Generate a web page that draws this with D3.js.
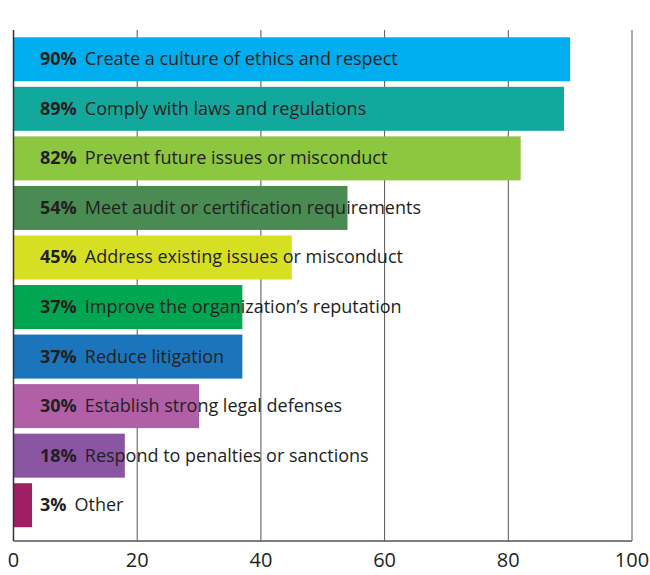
<!DOCTYPE html>
<html><head><meta charset="utf-8">
<script src="https://cdn.jsdelivr.net/npm/d3@7"></script>
<style>body{margin:0;background:#fff}text{font-family:"Open Sans",sans-serif}</style>
</head><body><svg id="c" width="650" height="575"></svg>
<script>
var labels = ["Create a culture of ethics and respect","Comply with laws and regulations","Prevent future issues or misconduct","Meet audit or certification requirements","Address existing issues or misconduct","Improve the organization\u2019s reputation","Reduce litigation","Establish strong legal defenses","Respond to penalties or sanctions","Other"];
var values = [90,89,82,54,45,37,37,30,18,3];
var colors = ["#00aeef","#13a89e","#8dc63f","#4a8b54","#d7df23","#00a651","#1b75bc","#b160a8","#8a55a3","#9e1f63"];
var ticks = [0,20,40,60,80,100];

var svg = d3.select("#c");
var x = d3.scaleLinear().domain([0,100]).range([13.5,632]);
var y = d3.scaleBand().domain(labels).range([34.5,530]).paddingInner(0.112).paddingOuter(0.056);

//gridlines
svg.selectAll("line.g").data(ticks.slice(1)).enter().append("line")
  .attr("x1",d=>x(d)).attr("x2",d=>x(d)).attr("y1",30).attr("y2",541)
  .attr("stroke","#555").attr("stroke-width",1);

svg.selectAll("rect").data(values).enter().append("rect")
  .attr("x",x(0)).attr("y",(d,i)=>y(labels[i]))
  .attr("width",d=>x(d)-x(0)).attr("height",y.bandwidth())
  .attr("fill",(d,i)=>colors[i]);

var t = svg.selectAll("text.l").data(values).enter().append("text")
  .attr("x",40).attr("y",(d,i)=>y(labels[i])+y.bandwidth()/2+6)
  .attr("font-size",18).attr("fill","#231f20");
t.append("tspan").attr("font-weight","bold").text(d=>d+"%");
t.append("tspan").attr("dx",8).text((d,i)=>labels[i]);

//axes
svg.append("line").attr("x1",x(0)).attr("x2",x(0)).attr("y1",30).attr("y2",541).attr("stroke","#333").attr("stroke-width",1.5);
svg.append("line").attr("x1",x(0)).attr("x2",x(100)).attr("y1",541).attr("y2",541).attr("stroke","#555").attr("stroke-width",1.5);
svg.selectAll("text.t").data(ticks).enter().append("text")
  .attr("x",d=>x(d)).attr("y",567).attr("text-anchor","middle")
  .attr("font-size",20).attr("fill","#231f20").text(d=>d);
</script></body></html>
